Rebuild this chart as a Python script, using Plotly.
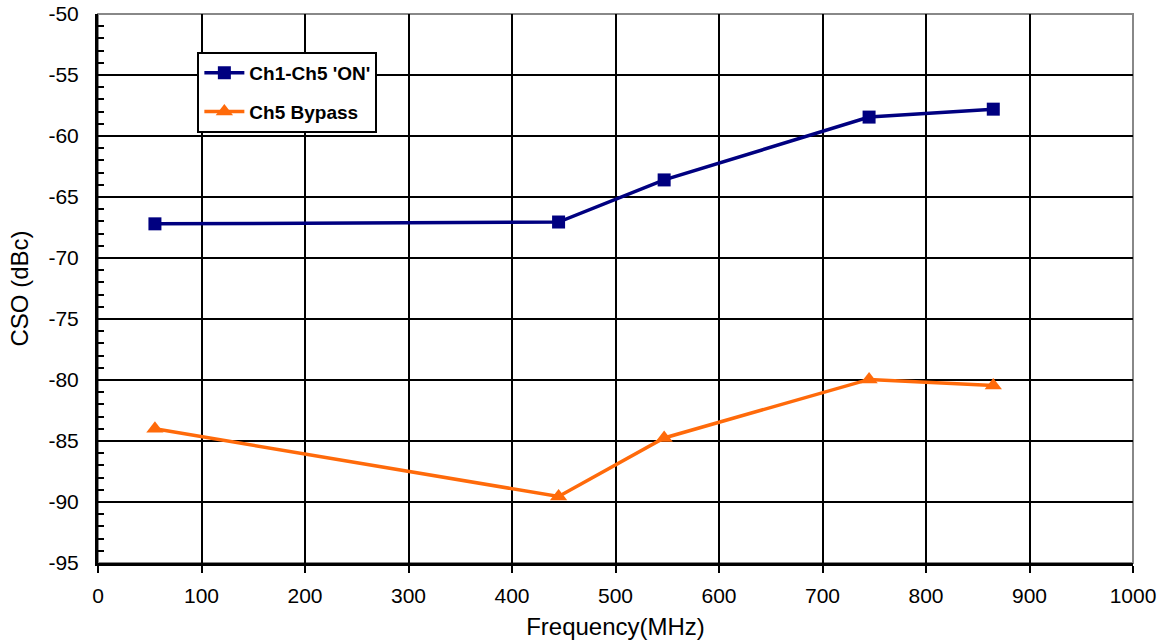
import plotly.graph_objects as go

freq = [55, 445, 547, 745, 865]
ch1_ch5_on = [-67.2, -67.05, -63.6, -58.45, -57.8]
ch5_bypass = [-84.0, -89.55, -84.75, -79.95, -80.45]
y_ticks = [-95, -90, -85, -80, -75, -70, -65, -60, -55, -50]
y_tick_text = ["-95", "-90", "-85", "-80", "-75", "-70", "-65", "-60", "-55", "-50"]

fig = go.Figure()
fig.add_trace(go.Scatter(x=freq, y=ch1_ch5_on, mode="lines+markers", name="Ch1-Ch5 'ON'",
                         legendgroup="a",
                         line=dict(color="#000080", width=3.5),
                         marker=dict(symbol="square", size=13, color="#000080")))
fig.add_trace(go.Scatter(x=freq, y=ch5_bypass, mode="lines+markers", name="Ch5 Bypass",
                         legendgroup="b",
                         line=dict(color="#FF6A0A", width=3.5),
                         marker=dict(symbol="triangle-up", size=15, color="#FF6A0A")))

fig.add_shape(type="rect", xref="paper", yref="paper", x0=0, x1=1, y0=0, y1=1,
              line=dict(color="#888888", width=2), layer="below")

fig.update_layout(
    width=1159, height=642,
    margin=dict(l=98, r=26, t=14, b=79, autoexpand=False),
    paper_bgcolor="white", plot_bgcolor="white",
    font=dict(family="Liberation Sans, Arial, sans-serif", size=21, color="black"),
    showlegend=True,
    legend=dict(x=0.096, y=0.931, xanchor="left", yanchor="top",
                bgcolor="white", bordercolor="black", borderwidth=2,
                font=dict(size=19, color="black", family="Liberation Sans, Arial, sans-serif", weight="bold"),
                tracegroupgap=11, itemwidth=40),
)
fig.update_xaxes(range=[0, 1000], dtick=100, tick0=0, automargin=False,
                 showgrid=True, gridcolor="black", gridwidth=2,
                 showline=True, linecolor="black", linewidth=3,
                 ticks="outside", ticklen=7, tickwidth=2, tickcolor="black",
                 ticklabelstandoff=5,
                 zeroline=False,
                 title=dict(text="Frequency(MHz)", font=dict(size=24), standoff=12))
fig.update_yaxes(range=[-95, -50], tickmode="array", tickvals=y_ticks, ticktext=y_tick_text,
                 automargin=False,
                 showgrid=True, gridcolor="black", gridwidth=2,
                 showline=True, linecolor="black", linewidth=3,
                 ticks="inside", ticklen=6, tickwidth=2, tickcolor="black",
                 ticklabelstandoff=12,
                 minor=dict(dtick=1, tick0=-95, ticks="inside", ticklen=6, tickwidth=2, tickcolor="black", showgrid=False),
                 zeroline=False,
                 title=dict(text="CSO (dBc)", font=dict(size=24), standoff=14))

fig.write_html("out.html", config={"displayModeBar": False},
               post_script="document.body.style.margin='0';document.body.style.overflow='hidden';")
